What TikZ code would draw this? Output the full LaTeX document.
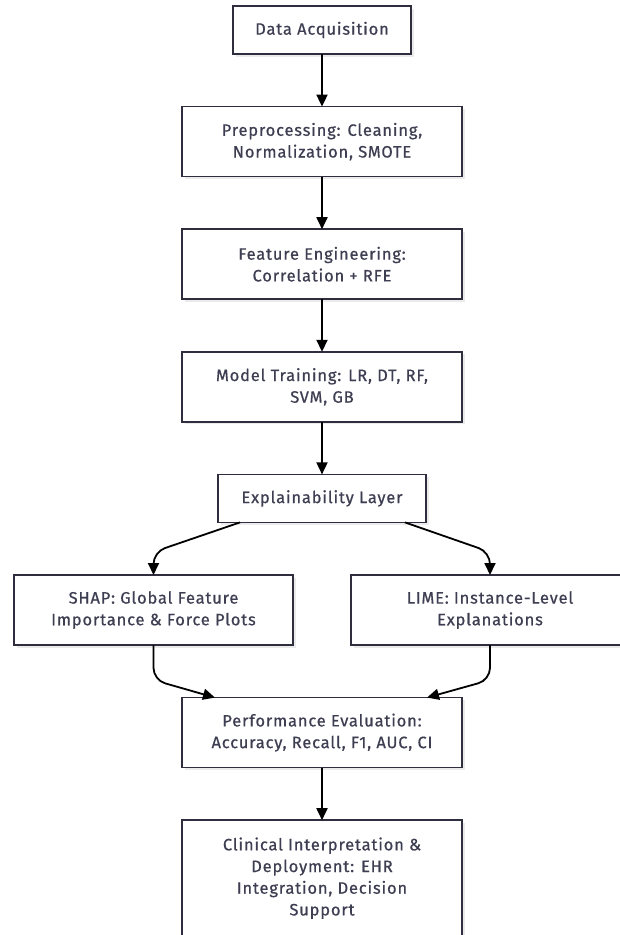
\documentclass[tikz,border=0pt]{standalone}
\usepackage{fontspec}
\setmainfont{Fira Sans}
\newfontfamily\stagefont{Fira Sans}[LetterSpace=5, FakeBold=0.6]
\usetikzlibrary{positioning,arrows.meta,shadows}
\definecolor{boxline}{HTML}{2E2E3E}
\definecolor{boxtext}{HTML}{3E3E52}
\tikzset{
  stage/.style={draw=boxline, line width=1.5pt, fill=white, inner sep=0pt, outer sep=0pt,
    minimum width=280pt, minimum height=70pt, align=center, text=boxtext,
    font=\stagefont\fontsize{16.5}{21.7}\selectfont,
    drop shadow={shadow xshift=2.5pt, shadow yshift=-2.5pt, fill=black, opacity=0.08}},
  flow/.style={-{Triangle[length=12pt,width=11pt]}, line width=1.8pt, black},
}
\begin{document}
\begin{tikzpicture}[x=1pt, y=-1pt, node distance=52.6pt]
  \useasboundingbox (0,0) rectangle (619,935);
  \node[stage, minimum width=178pt, minimum height=48pt] (acq) at (322,30) {Data Acquisition};
  \node[stage] (prep) [below=of acq] {Preprocessing: Cleaning,\\Normalization, SMOTE};
  \node[stage] (feat) [below=of prep] {Feature Engineering:\\Correlation + RFE};
  \node[stage] (train) [below=of feat] {Model Training: LR, DT, RF,\\SVM, GB};
  \node[stage, minimum width=208pt, minimum height=48pt] (expl) [below=of train] {Explainability Layer};
  \node[stage, minimum width=279pt] (shap) [below=of expl, xshift=-168.5pt] {SHAP: Global Feature\\Importance \& Force Plots};
  \node[stage, minimum width=278pt] (lime) [below=of expl, xshift=168pt] {LIME: Instance-Level\\Explanations};
  \node[stage] (perf) [below=of expl, yshift=-122.6pt] {Performance Evaluation:\\Accuracy, Recall, F1, AUC, CI};
  \node[stage, minimum height=116pt] (clin) [below=of perf] {Clinical Interpretation \&\\Deployment: EHR\\Integration, Decision\\Support};
  \path[flow]
  (acq) edge (prep)
  (prep) edge (feat)
  (feat) edge (train)
  (train) edge (expl)
  (perf) edge (clin);
  \draw[flow, rounded corners=12pt] ([xshift=-82pt]expl.south) -- ([yshift=23pt]shap.north) -- (shap.north);
  \draw[flow, rounded corners=12pt] ([xshift=83pt]expl.south) -- ([yshift=23pt]lime.north) -- (lime.north);
  \draw[flow, rounded corners=12pt] (shap.south) -- ([yshift=-35pt]shap.south) -- ([xshift=-107pt]perf.north);
  \draw[flow, rounded corners=12pt] (lime.south) -- ([yshift=-35pt]lime.south) -- ([xshift=105pt]perf.north);
\end{tikzpicture}
\end{document}
